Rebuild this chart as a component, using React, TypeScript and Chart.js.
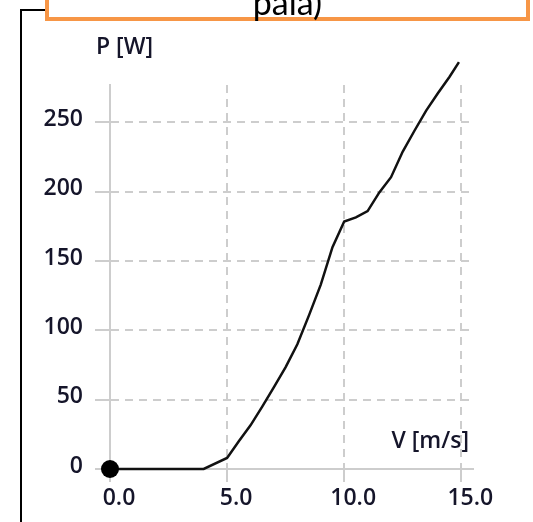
import React, { useEffect, useRef } from "react";
import { Chart, registerables } from "chart.js";

Chart.register(...registerables);

// ---- data ----
const windSpeed = [0, 4, 5, 5.5, 6, 6.5, 7, 7.5, 8, 8.5, 9, 9.5, 10, 10.5, 11, 11.5, 12, 12.5, 13, 13.5, 14, 14.5, 14.9];
const power = [0, 0, 8, 20, 31.5, 45, 59, 73.5, 90, 111, 133, 160, 178.5, 181.5, 186, 199.5, 210.5, 229, 244, 258.5, 271, 283, 293.5];
const xTickValues = [0, 5, 10, 15];
const yTickValues = [0, 50, 100, 150, 200, 250];
const xAxisTitle = "V [m/s]";
const yAxisTitle = "P [W]";
const headerFragment = "pala)";

const FONT = "'Open Sans', 'DejaVu Sans', sans-serif";
const TEXT_COLOR = "#15152a";
const GRID_COLOR = "#cdcdcd";

const axisTitlesPlugin = {
  id: "axisTitles",
  afterDraw(chart: any) {
    const { ctx, chartArea } = chart;
    ctx.save();
    ctx.font = `600 23px ${FONT}`;
    ctx.fillStyle = TEXT_COLOR;
    ctx.textBaseline = "alphabetic";
    ctx.textAlign = "left";
    ctx.fillText(yAxisTitle, chartArea.left - 14, chartArea.top - 31);
    ctx.textAlign = "right";
    ctx.fillText(xAxisTitle, chartArea.right - 4, chartArea.bottom - 21);
    ctx.restore();
  },
};

export default function App() {
  const canvasRef = useRef<HTMLCanvasElement | null>(null);

  useEffect(() => {
    if (!canvasRef.current) return;
    const points = windSpeed.map((x, i) => ({ x, y: power[i] }));
    const tickFont = { family: FONT, size: 23, weight: 600 as any };
    const chart = new Chart(canvasRef.current, {
      type: "line",
      data: {
        datasets: [
          {
            data: points,
            borderColor: "#111111",
            borderWidth: 2.5,
            tension: 0,
            clip: false as any,
            pointRadius: (ctx: any) => (ctx.dataIndex === 0 ? 9 : 0),
            pointBackgroundColor: "#000000",
            pointBorderWidth: 0,
            pointHoverRadius: 0,
          },
        ],
      },
      options: {
        animation: false,
        responsive: false,
        events: [],
        layout: { padding: { left: 0, top: 85, right: 60, bottom: 13 } },
        plugins: { legend: { display: false }, tooltip: { enabled: false } },
        scales: {
          x: {
            type: "linear",
            min: 0,
            max: 15.5,
            afterBuildTicks: (s: any) => {
              s.ticks = xTickValues.map((v) => ({ value: v }));
            },
            afterFit: (s: any) => {
              s.height = 40;
            },
            grid: {
              color: GRID_COLOR,
              lineWidth: 2,
              tickLength: 13,
              tickColor: GRID_COLOR,
              tickWidth: 2,
              tickBorderDash: [],
            },
            border: { display: true, color: GRID_COLOR, width: 2, dash: [8, 6] },
            ticks: {
              font: tickFont,
              color: TEXT_COLOR,
              padding: 3,
              labelOffset: 9,
              maxRotation: 0,
              autoSkip: false,
              callback: (v: any) => Number(v).toFixed(1),
            },
          },
          y: {
            type: "linear",
            min: 0,
            max: 277,
            afterBuildTicks: (s: any) => {
              s.ticks = yTickValues.map((v) => ({ value: v }));
            },
            afterFit: (s: any) => {
              s.width = 110;
            },
            grid: {
              color: GRID_COLOR,
              lineWidth: 2,
              tickLength: 15,
              tickColor: GRID_COLOR,
              tickWidth: 2,
              tickBorderDash: [],
            },
            border: { display: true, color: GRID_COLOR, width: 2, dash: [8, 6] },
            ticks: {
              font: tickFont,
              color: TEXT_COLOR,
              padding: 12,
              labelOffset: -3,
              autoSkip: false,
              callback: (v: any) => String(v),
            },
          },
        },
      } as any,
      plugins: [axisTitlesPlugin],
    });
    return () => chart.destroy();
  }, []);

  return (
    <div
      style={{
        position: "fixed",
        left: 0,
        top: 0,
        width: 533,
        height: 522,
        overflow: "hidden",
        background: "#ffffff",
      }}
    >
      <div
        style={{
          position: "absolute",
          left: 20,
          top: 9,
          width: 200,
          height: 800,
          borderLeft: "2px solid #000",
          borderTop: "2px solid #000",
          boxSizing: "border-box",
        }}
      />
      <canvas
        ref={canvasRef}
        width={533}
        height={522}
        style={{ position: "absolute", left: 0, top: 0 }}
      />
      <div
        style={{
          position: "absolute",
          left: 45,
          top: -60,
          width: 485,
          height: 81,
          boxSizing: "border-box",
          border: "4px solid #f79646",
          background: "#ffffff",
        }}
      />
      <div
        style={{
          position: "absolute",
          left: 45,
          top: -15,
          width: 485,
          textAlign: "center",
          fontFamily: "Lato, 'Open Sans', sans-serif",
          fontSize: 34,
          lineHeight: "34px",
          color: "#000",
          whiteSpace: "nowrap",
        }}
      >
        {headerFragment}
      </div>
    </div>
  );
}
